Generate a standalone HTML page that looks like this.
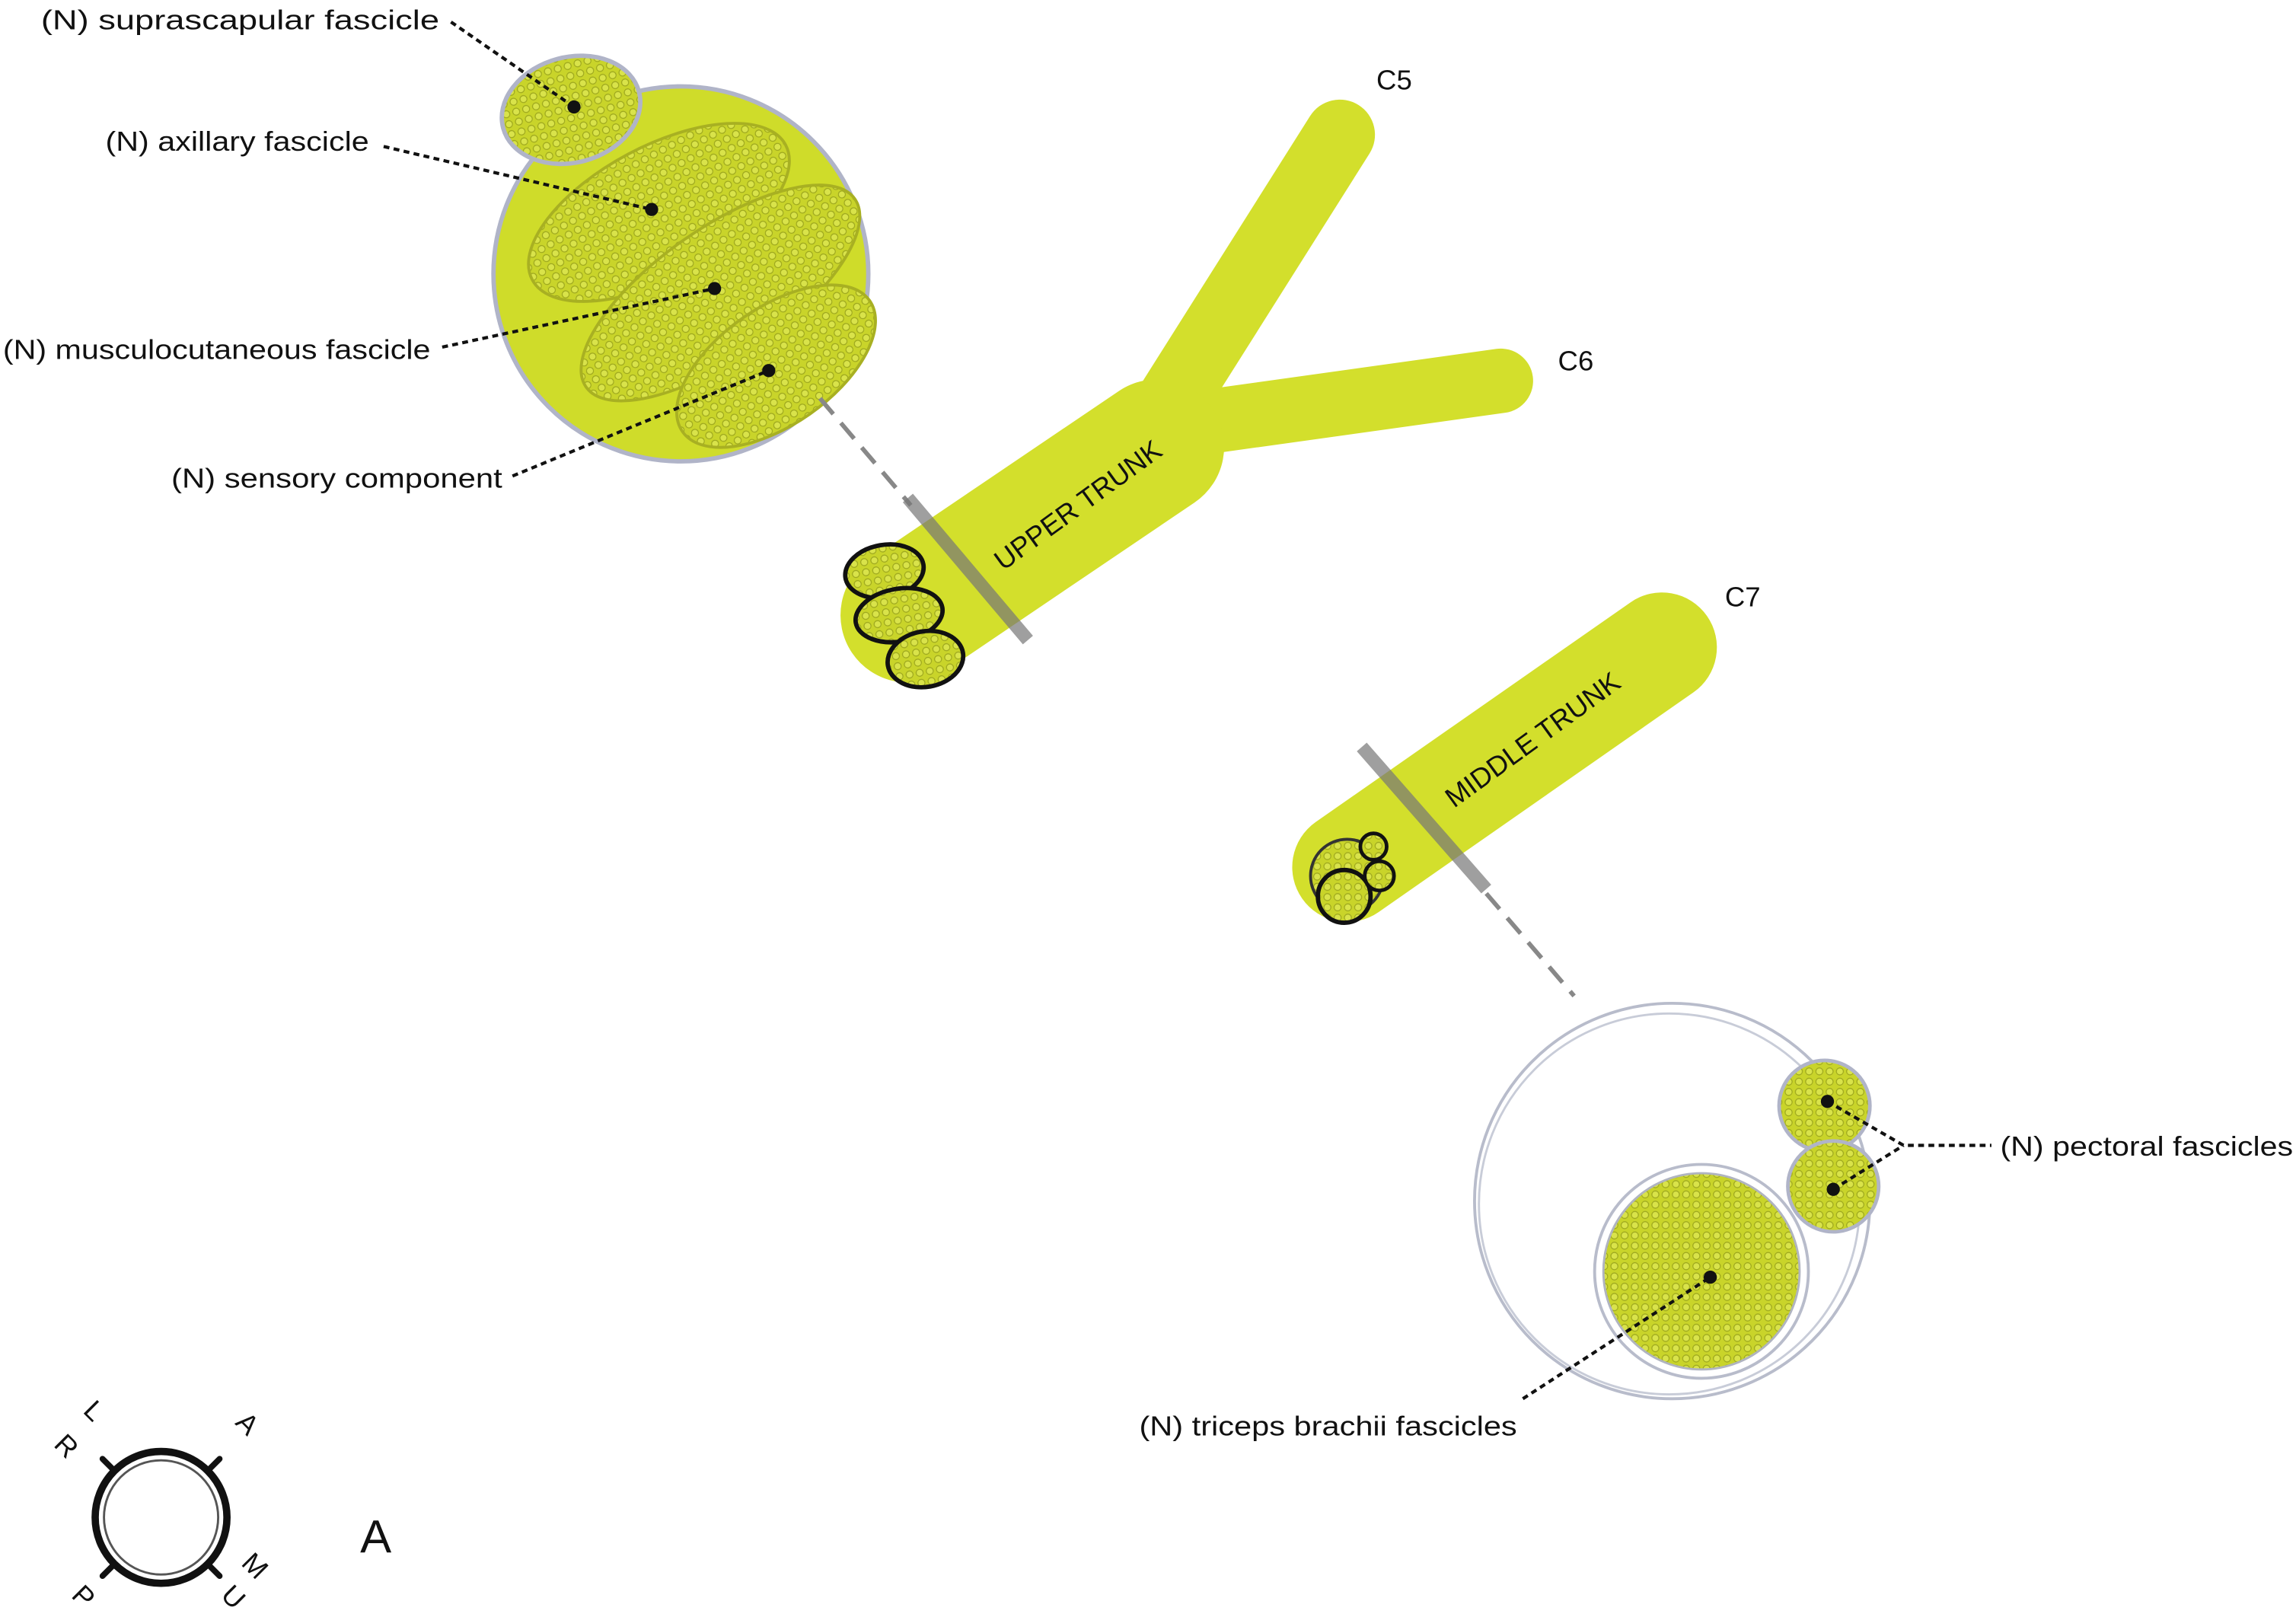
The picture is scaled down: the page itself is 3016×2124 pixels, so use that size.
<!DOCTYPE html>
<html><head><meta charset="utf-8"><style>
html,body{margin:0;padding:0;background:#fff;}
svg{display:block;}
text{font-family:"Liberation Sans",sans-serif;fill:#111;}
</style></head><body>
<svg width="3016" height="2124" viewBox="0 0 1568 1104" preserveAspectRatio="none" xmlns="http://www.w3.org/2000/svg">
<defs>
<pattern id="dots" width="7" height="7" patternUnits="userSpaceOnUse">
<rect width="7" height="7" fill="#c9d42a"/>
<circle cx="3.5" cy="3.5" r="2.4" fill="#d9e34a" stroke="#9aa41c" stroke-width="0.6"/>
</pattern>
</defs>
<rect width="1568" height="1104" fill="#fff"/>

<!-- Top-left big circle -->
<circle cx="465" cy="187" r="128" fill="#cfdc2a" stroke="#b0b4c8" stroke-width="3"/>
<ellipse cx="390" cy="75" rx="48" ry="36" transform="rotate(-15 390 75)" fill="url(#dots)" stroke="#b0b4c8" stroke-width="3"/>
<ellipse cx="450" cy="145" rx="98" ry="45" transform="rotate(-28 450 145)" fill="url(#dots)" stroke="#a8b022" stroke-width="2"/>
<ellipse cx="492" cy="200" rx="112" ry="44" transform="rotate(-35 492 200)" fill="url(#dots)" stroke="#a8b022" stroke-width="2"/>
<ellipse cx="530" cy="250" rx="78" ry="40" transform="rotate(-35 530 250)" fill="url(#dots)" stroke="#a8b022" stroke-width="2"/>

<line x1="560" y1="272" x2="622" y2="345" stroke="#888" stroke-width="3" stroke-dasharray="14 8"/>

<!-- Upper trunk -->
<g stroke="#d3df2c" stroke-linecap="round" fill="none">
<line x1="915" y1="92" x2="790" y2="290" stroke-width="48"/>
<line x1="1025" y1="260" x2="810" y2="290" stroke-width="44"/>
<line x1="620" y1="420" x2="790" y2="305" stroke-width="92"/>
</g>
<line x1="620" y1="340" x2="702" y2="437" stroke="#777" stroke-width="9" opacity="0.7"/>
<ellipse cx="604" cy="390" rx="27" ry="18" transform="rotate(-10 604 390)" fill="url(#dots)" stroke="#111" stroke-width="3"/>
<ellipse cx="614" cy="420" rx="30" ry="18" transform="rotate(-10 614 420)" fill="url(#dots)" stroke="#111" stroke-width="3"/>
<ellipse cx="632" cy="450" rx="26" ry="19" transform="rotate(-10 632 450)" fill="url(#dots)" stroke="#111" stroke-width="3"/>
<text x="0" y="0" font-size="19" transform="translate(685 390) rotate(-36)">UPPER TRUNK</text>

<!-- Middle trunk -->
<line x1="920" y1="592" x2="1135" y2="442" stroke="#d3df2c" stroke-width="75" stroke-linecap="round"/>
<line x1="930" y1="510" x2="1015" y2="607" stroke="#777" stroke-width="9" opacity="0.7"/>
<circle cx="920" cy="598" r="25" fill="url(#dots)" stroke="#333" stroke-width="2"/>
<circle cx="918" cy="612" r="18" fill="url(#dots)" stroke="#111" stroke-width="3"/>
<circle cx="938" cy="578" r="9" fill="url(#dots)" stroke="#111" stroke-width="2.5"/>
<circle cx="942" cy="598" r="10" fill="url(#dots)" stroke="#111" stroke-width="2.5"/>
<text x="0" y="0" font-size="19" transform="translate(993 552) rotate(-36)">MIDDLE TRUNK</text>

<line x1="1015" y1="610" x2="1075" y2="680" stroke="#888" stroke-width="3" stroke-dasharray="14 8"/>

<!-- Bottom circle -->
<circle cx="1142" cy="820" r="135" fill="none" stroke="#b8bccb" stroke-width="2"/>
<circle cx="1140" cy="822" r="130" fill="none" stroke="#c8ccd8" stroke-width="1.5"/>
<circle cx="1162" cy="868" r="73" fill="none" stroke="#b8bccb" stroke-width="2"/>
<circle cx="1162" cy="868" r="67" fill="url(#dots)" stroke="#b0b4c0" stroke-width="1.5"/>
<circle cx="1246" cy="755" r="31" fill="url(#dots)" stroke="#b0b4c8" stroke-width="2.5"/>
<circle cx="1252" cy="810" r="31" fill="url(#dots)" stroke="#b0b4c8" stroke-width="2.5"/>

<!-- leaders -->
<g stroke="#111" stroke-width="2.2" stroke-dasharray="4 3" fill="none">
<line x1="308" y1="15" x2="392" y2="73"/>
<line x1="262" y1="100" x2="445" y2="143"/>
<line x1="302" y1="237" x2="488" y2="197"/>
<line x1="350" y1="325" x2="525" y2="253"/>
<polyline points="1248,752 1300,782 1360,782"/>
<line x1="1252" y1="812" x2="1300" y2="782"/>
<line x1="1040" y1="955" x2="1168" y2="872"/>
</g>
<g fill="#111">
<circle cx="392" cy="73" r="4.5"/><circle cx="445" cy="143" r="4.5"/>
<circle cx="488" cy="197" r="4.5"/><circle cx="525" cy="253" r="4.5"/>
<circle cx="1248" cy="752" r="4.5"/><circle cx="1252" cy="812" r="4.5"/>
<circle cx="1168" cy="872" r="4.5"/>
</g>

<g font-size="19" style="font-size:19px">
<text x="28" y="20" textLength="272" lengthAdjust="spacingAndGlyphs">(N) suprascapular fascicle</text>
<text x="72" y="103" textLength="180" lengthAdjust="spacingAndGlyphs">(N) axillary fascicle</text>
<text x="2" y="245" textLength="292" lengthAdjust="spacingAndGlyphs">(N) musculocutaneous fascicle</text>
<text x="117" y="333" textLength="226" lengthAdjust="spacingAndGlyphs">(N) sensory component</text>
<text x="1366" y="789" textLength="200" lengthAdjust="spacingAndGlyphs">(N) pectoral fascicles</text>
<text x="778" y="980" textLength="258" lengthAdjust="spacingAndGlyphs">(N) triceps brachii fascicles</text>
<text x="940" y="61">C5</text>
<text x="1064" y="253">C6</text>
<text x="1178" y="414">C7</text>
</g>

<!-- compass -->
<circle cx="110" cy="1036" r="45" fill="none" stroke="#111" stroke-width="5"/>
<circle cx="110" cy="1036" r="39" fill="none" stroke="#555" stroke-width="1.5"/>
<g stroke="#111" stroke-width="4" stroke-linecap="round">
<line x1="78" y1="1004" x2="70" y2="996"/><line x1="142" y1="1004" x2="150" y2="996"/>
<line x1="78" y1="1068" x2="70" y2="1076"/><line x1="142" y1="1068" x2="150" y2="1076"/>
</g>
<g font-size="19">
<text transform="translate(56 964) rotate(45)">L</text>
<text transform="translate(36 987) rotate(45)">R</text>
<text transform="translate(160 972) rotate(45)">A</text>
<text transform="translate(48 1090) rotate(45)">P</text>
<text transform="translate(164 1068) rotate(45)">M</text>
<text transform="translate(150 1090) rotate(45)">U</text>
</g>
<text x="246" y="1060" font-size="32">A</text>
</svg>
</body></html>
